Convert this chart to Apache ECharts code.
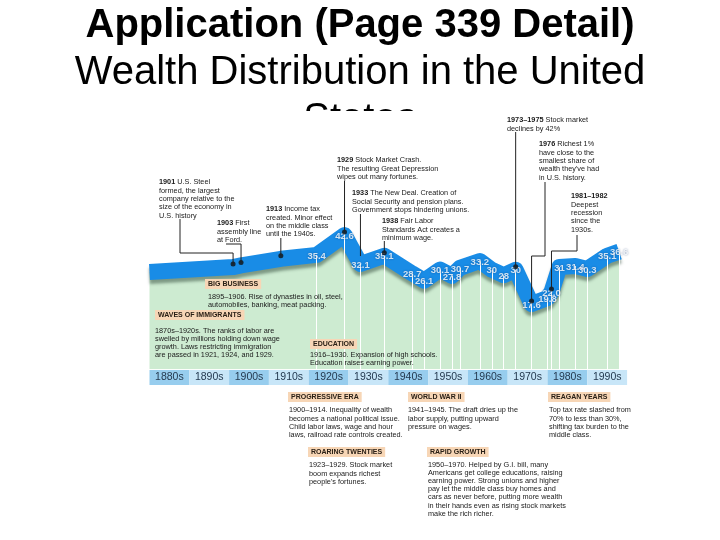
<!DOCTYPE html>
<html><head><meta charset="utf-8">
<script src="https://cdn.jsdelivr.net/npm/echarts@6/dist/echarts.min.js"></script>
<style>html,body{margin:0;padding:0;background:#fff}#c{width:720px;height:540px}</style>
</head><body><div id="c"></div>
<script>
// ---- data ----
const years  = [1880, 1901, 1903, 1913, 1922, 1929, 1933, 1939, 1946, 1949, 1953, 1956, 1958, 1963, 1966, 1969, 1972, 1976, 1980, 1981, 1983, 1987, 1990, 1995, 1998];
const shares = [29.2, 31.0, 31.6, 34.0, 35.4, 42.6, 32.1, 35.1, 28.7, 26.1, 30.1, 27.8, 30.7, 33.2, 30, 28, 30, 17.6, 19.8, 22.0, 31, 31.4, 30.3, 35.1, 36.6];
const shareLabels = ['', '', '', '', '35.4', '42.6', '32.1', '35.1', '28.7', '26.1', '30.1', '27.8', '30.7', '33.2', '30', '28', '30', '17.6', '19.8', '22.0', '31', '31.4', '30.3', '35.1', '36.6'];
const markedYears = [1901, 1903, 1913, 1929, 1939, 1972, 1976, 1981];
const decades = ['1880s', '1890s', '1900s', '1910s', '1920s', '1930s', '1940s', '1950s', '1960s', '1970s', '1980s', '1990s'];
const decadeBar = [1, 1, 1, 1, 1, 1, 1, 1, 1, 1, 1, 1];

const FONT = '"Liberation Sans", Arial, sans-serif';
const NARROW = '"Liberation Sans Narrow", "Liberation Sans", Arial, sans-serif';

const points = years.map((y, i) => [y, shares[i]]);
const dropLines = years.map((y, i) => i).filter(i => shareLabels[i] !== '')
  .map(i => [{coord: [years[i], -6]}, {coord: [years[i], shares[i]]}]);

const chart = echarts.init(document.getElementById('c'), null, {renderer: 'canvas'});
chart.setOption({
  animation: false,
  backgroundColor: '#fff',
  grid: [
    {left: 149.5, right: 92.9, top: 214.6, height: 154.6},
    {left: 149.5, right: 92.9, top: 370, height: 15}
  ],
  xAxis: [
    {type: 'value', gridIndex: 0, min: 1880, max: 2000, show: false, splitLine: {show: false}},
    {type: 'category', gridIndex: 1, data: decades, show: false, boundaryGap: true}
  ],
  yAxis: [
    {type: 'value', gridIndex: 0, min: -6, max: 50, show: false, splitLine: {show: false}},
    {type: 'value', gridIndex: 1, min: 0, max: 1, show: false, splitLine: {show: false}}
  ],
  series: [
    {
      type: 'line', xAxisIndex: 0, yAxisIndex: 0, data: points, symbol: 'none', z: 1,
      lineStyle: {width: 0, opacity: 0},
      areaStyle: {color: '#cdebd1', opacity: 1, origin: 'start'},
      markLine: {silent: true, symbol: ['none', 'none'], label: {show: false},
        lineStyle: {color: '#ffffff', width: 1, type: 'solid'}, data: dropLines}
    },
    {
      type: 'line', xAxisIndex: 0, yAxisIndex: 0, data: points, symbol: 'none', z: 3,
      lineStyle: {width: 16, color: '#198ce6', join: 'round', cap: 'butt',
        shadowColor: 'rgba(60,85,70,0.55)', shadowOffsetY: 4, shadowBlur: 3}
    },
    {
      type: 'scatter', xAxisIndex: 0, yAxisIndex: 0, data: points, z: 5,
      symbolSize: 1, itemStyle: {color: 'rgba(0,0,0,0)'},
      label: {show: true, position: 'inside', offset: [0, 1],
        formatter: p => shareLabels[p.dataIndex],
        color: '#ffffff', fontFamily: NARROW, fontSize: 9.5, fontWeight: 'bold',
        textShadowColor: 'rgba(0,40,100,0.6)', textShadowBlur: 2}
    },
    {
      type: 'scatter', xAxisIndex: 0, yAxisIndex: 0, z: 6,
      data: markedYears.map(y => [y, shares[years.indexOf(y)]]),
      symbolSize: 5, symbolOffset: [0, -3], itemStyle: {color: '#111'}
    },
    {
      type: 'bar', xAxisIndex: 1, yAxisIndex: 1, data: decadeBar,
      barWidth: '100%', barCategoryGap: '0%',
      itemStyle: {color: p => p.dataIndex % 2 === 0 ? '#97cdee' : '#c8e6f8'},
      label: {show: true, position: 'inside', formatter: p => p.name,
        color: '#24394f', fontFamily: FONT, fontSize: 10.5}
    }
  ]
});

// ---- annotations ----
const px = (yr) => chart.convertToPixel({xAxisIndex: 0, yAxisIndex: 0}, [yr, shares[years.indexOf(yr)]]);
const dot = (yr) => { const p = px(yr); return [p[0], p[1] - 3]; };

function note(x, yTop, text, lh) {
  lh = lh || 8.4;
  return {type: 'text', x: x, y: yTop, z: 20, silent: true,
    style: {text: text, fontFamily: FONT, fontSize: 7.3, lineHeight: lh, fill: '#1a1a1a',
      textVerticalAlign: 'top', verticalAlign: 'top',
      rich: {b: {fontFamily: FONT, fontSize: 7.3, fontWeight: 'bold', lineHeight: lh, fill: '#1a1a1a'}}}};
}
function tag(x, yMid, text) {
  return {type: 'text', x: x, y: yMid, z: 20, silent: true,
    style: {text: text, fontFamily: FONT, fontSize: 7, fontWeight: 'bold', fill: '#2a2016',
      backgroundColor: '#f7d6b6', padding: [2, 3, 1, 3],
      textVerticalAlign: 'middle', verticalAlign: 'middle'}};
}
function pline(pts) {
  return {type: 'polyline', z: 19, silent: true, shape: {points: pts},
    style: {stroke: '#222', lineWidth: 1, fill: null}};
}

const d1901 = dot(1901), d1903 = dot(1903), d1913 = dot(1913), d1929 = dot(1929),
      d1939 = dot(1939), d1972 = dot(1972), d1976 = dot(1976), d1981 = dot(1981);
const p1933 = px(1933);

const g = [
  {type: 'text', x: 360, y: 26, z: 1, silent: true,
    style: {text: 'Application (Page 339 Detail)', font: 'bold 40px ' + FONT, fill: '#000',
      textAlign: 'center', align: 'center', textVerticalAlign: 'middle', verticalAlign: 'middle'}},
  {type: 'text', x: 360, y: 73, z: 1, silent: true,
    style: {text: 'Wealth Distribution in the United', font: '40px ' + FONT, fill: '#000',
      textAlign: 'center', align: 'center', textVerticalAlign: 'middle', verticalAlign: 'middle'}},
  {type: 'text', x: 360, y: 120, z: 1, silent: true,
    style: {text: 'States', font: '40px ' + FONT, fill: '#000',
      textAlign: 'center', align: 'center', textVerticalAlign: 'middle', verticalAlign: 'middle'}},
  {type: 'rect', z: 2, silent: true, shape: {x: 0, y: 111, width: 720, height: 40}, style: {fill: '#fff'}},

  note(159, 178, '{b|1901} U.S. Steel\nformed, the largest\ncompany relative to the\nsize of the economy in\nU.S. history'),
  note(217, 219, '{b|1903} First\nassembly line\nat Ford.'),
  note(266, 205, '{b|1913} Income tax\ncreated. Minor effect\non the middle class\nuntil the 1940s.'),
  note(337, 156, '{b|1929} Stock Market Crash.\nThe resulting Great Depression\nwipes out many fortunes.'),
  note(352, 189, '{b|1933} The New Deal. Creation of\nSocial Security and pension plans.\nGovernment stops hindering unions.'),
  note(382, 217, '{b|1938} Fair Labor\nStandards Act creates a\nminimum wage.'),
  note(507, 116, '{b|1973–1975} Stock market\ndeclines by 42%'),
  note(539, 140, '{b|1976} Richest 1%\nhave close to the\nsmallest share of\nwealth they\'ve had\nin U.S. history.'),
  note(571, 192, '{b|1981–1982}\nDeepest\nrecession\nsince the\n1930s.'),

  pline([[180, 219], [180, 253], [d1901[0], 253], d1901]),
  pline([[226, 244], [d1903[0], 244], d1903]),
  pline([[d1913[0], 238], d1913]),
  pline([[d1929[0], 181], d1929]),
  pline([[p1933[0], 214], [p1933[0], p1933[1] - 8]]),
  pline([[d1939[0], 241], d1939]),
  pline([[d1972[0], 132], d1972]),
  pline([[545, 182], [545, 256], [d1976[0], 256], d1976]),
  pline([[577, 235], [577, 251], [d1981[0], 251], d1981]),

  tag(205, 284, 'BIG BUSINESS'),
  note(208, 293, '1895–1906. Rise of dynasties in oil, steel,\nautomobiles, banking, meat packing.', 8),
  tag(155, 315, 'WAVES OF IMMIGRANTS'),
  note(155, 327, '1870s–1920s. The ranks of labor are\nswelled by millions holding down wage\ngrowth. Laws restricting immigration\nare passed in 1921, 1924, and 1929.', 7.9),
  tag(310, 344, 'EDUCATION'),
  note(310, 351, '1916–1930. Expansion of high schools.\nEducation raises earning power.', 8),

  tag(288, 397, 'PROGRESSIVE ERA'),
  note(289, 406, '1900–1914. Inequality of wealth\nbecomes a national political issue.\nChild labor laws, wage and hour\nlaws, railroad rate controls created.'),
  tag(408, 397, 'WORLD WAR II'),
  note(408, 406, '1941–1945. The draft dries up the\nlabor supply, putting upward\npressure on wages.'),
  tag(308, 452, 'ROARING TWENTIES'),
  note(309, 461, '1923–1929. Stock market\nboom expands richest\npeople\'s fortunes.'),
  tag(427, 452, 'RAPID GROWTH'),
  note(428, 461, '1950–1970. Helped by G.I. bill, many\nAmericans get college educations, raising\nearning power. Strong unions and higher\npay let the middle class buy homes and\ncars as never before, putting more wealth\nin their hands even as rising stock markets\nmake the rich richer.', 8.1),
  tag(548, 397, 'REAGAN YEARS'),
  note(549, 406, 'Top tax rate slashed from\n70% to less than 30%,\nshifting tax burden to the\nmiddle class.')
];
chart.setOption({graphic: g});
</script>
</body></html>
